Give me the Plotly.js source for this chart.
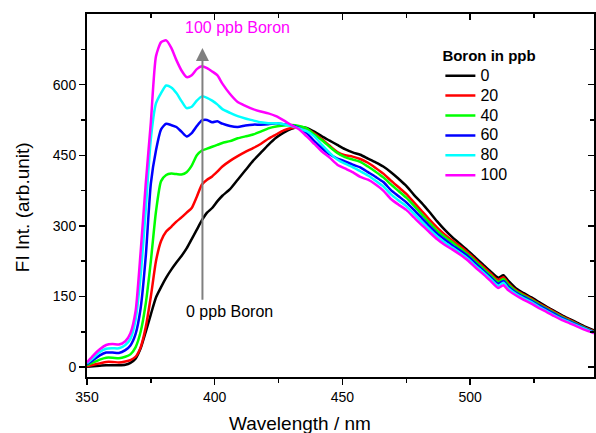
<!DOCTYPE html>
<html>
<head>
<meta charset="utf-8">
<script src="https://cdn.plot.ly/plotly-3.0.1.min.js"></script>
<style>html,body{margin:0;padding:0;background:#fff;}#chart{width:596px;height:433px;}</style>
</head>
<body>
<div id="chart"></div>
<script>
const wavelength = [350,352.5,355,357.5,360,362.5,365,367,369,371,373,375,377,379,381,383,385,387,389,391,393,395,397,399,401,403,406,409,412,415,418,421,424,427,430,433,436,439,442,445,448,451,454,457,460,463,466,469,472,475,478,481,484,487,490,493,496,499,502,505,508,511,513,515,518,521,524,527,530,533,536,539,542,545,548.5];

const boron0 = [1,2,3,4,4,4,5,9,18,40,75,112,148,170,190,207,222,236,252,272,292,312,328,338,352,364,378,398,418,438,455,472,487,498,506,510,508,500,490,481,472,463,456,451,443,435,426,414,400,385,366,349,330,310,292,276,262,248,233,218,203,190,195,183,167,157,148,138,128,119,110,102,94,86,78];
const boron20 = [2,5,8,11,11,10,12,15,22,42,85,150,225,268,288,298,309,318,328,338,362,388,398,405,415,426,438,448,457,465,474,485,494,503,508,509,506,496,484,470,457,450,447,442,434,423,411,396,382,368,350,332,314,297,282,269,257,244,229,214,199,185,191,178,163,154,145,135,126,117,108,100,92,84,76];
const boron40 = [4,10,16,20,20,19,22,27,42,75,135,225,330,395,408,411,410,409,414,428,450,460,464,468,472,476,480,486,490,494,500,507,511,513,514,512,507,494,482,468,455,446,441,436,426,415,403,388,374,360,343,325,307,290,277,265,253,240,225,210,195,181,187,175,161,152,143,133,124,115,106,98,91,83,75];
const boron60 = [6,15,25,31,31,30,36,46,70,125,235,390,460,505,517,514,510,500,490,497,512,524,525,520,522,517,512,510,513,515,515,516,518,516,514,508,497,480,465,452,443,437,430,424,414,404,393,376,363,350,334,317,300,284,271,259,248,236,221,206,191,177,183,171,158,149,141,131,122,113,104,97,90,82,74];
const boron80 = [8,20,32,39,40,40,47,60,100,195,335,485,560,582,598,594,582,565,550,553,566,575,572,566,558,548,540,533,528,524,520,518,518,516,512,507,501,490,472,455,441,432,425,416,407,396,384,367,354,342,326,309,293,278,265,254,243,231,216,202,187,173,179,167,155,146,138,128,119,110,102,95,88,81,73];
const boron100 = [10,25,38,47,49,48,55,72,118,245,390,520,660,690,694,678,652,630,616,620,633,639,635,628,620,602,580,563,555,548,543,539,533,524,514,505,490,474,458,445,430,422,414,404,398,388,375,357,345,334,318,302,287,272,260,250,239,227,212,198,183,168,174,163,152,143,135,125,117,108,100,93,86,79,72];

const seriesNames = ['0','20','40','60','80','100'];
const seriesValues = [boron0, boron20, boron40, boron60, boron80, boron100];
const seriesColors = ['#000000','#ff0000','#00ff00','#0000ff','#00ffff','#ff00ff'];

const xTicks = [350,400,450,500];
const yTicks = [0,150,300,450,600];
const xMinorTicks = [375,425,475,525];
const yMinorTicks = [75,225,375,525,675];
const xRange = [350, 548.5];
const yRange = [-21, 750];

const FONT = 'Liberation Sans, Arial, Helvetica, sans-serif';

const traces = seriesNames.map((n, i) => ({
  type: 'scatter', mode: 'lines', name: '<span style="font-size:16px">' + n + '</span>',
  x: wavelength, y: seriesValues[i],
  line: {color: seriesColors[i], width: 2.5, shape: 'spline', smoothing: 0.6},
  hoverinfo: 'skip'
}));
// transparent copy on the mirrored axes so their inside ticks are drawn
traces.push({type:'scatter', mode:'lines', x:wavelength, y:boron0, xaxis:'x2', yaxis:'y2',
  line:{width:1, color:'rgba(0,0,0,0)'}, showlegend:false, hoverinfo:'skip'});

const axisCommon = {
  showgrid: false, zeroline: false, showline: true, linecolor: '#000', linewidth: 2,
  tickcolor: '#000', tickwidth: 1.5, ticklen: 6,
  tickfont: {family: FONT, size: 14, color: '#000'}
};

const layout = {
  width: 596, height: 433,
  margin: {l: 87, r: 2, t: 14, b: 56, pad: 0},
  paper_bgcolor: '#fff', plot_bgcolor: '#fff',
  showlegend: true,
  xaxis: Object.assign({}, axisCommon, {
    range: xRange.slice(), tickvals: xTicks, ticks: 'outside', mirror: true,
    minor: {tickvals: xMinorTicks, ticks: 'outside', ticklen: 4, tickwidth: 1.5, tickcolor: '#000'}
  }),
  yaxis: Object.assign({}, axisCommon, {
    range: yRange.slice(), tickvals: yTicks, ticks: 'outside', mirror: true,
    minor: {tickvals: yMinorTicks, ticks: 'outside', ticklen: 4, tickwidth: 1.5, tickcolor: '#000'}
  }),
  xaxis2: {
    overlaying: 'x', side: 'top', anchor: 'y2', range: xRange.slice(), tickvals: xTicks,
    ticks: 'inside', ticklen: 6, tickwidth: 1.5, tickcolor: '#000',
    showticklabels: true, tickfont: {size: 1, color: 'rgba(0,0,0,0)'},
    showgrid: false, zeroline: false,
    minor: {tickvals: xMinorTicks, ticks: 'inside', ticklen: 4, tickwidth: 1.5, tickcolor: '#000'}
  },
  yaxis2: {
    overlaying: 'y', side: 'right', anchor: 'x2', range: yRange.slice(), tickvals: yTicks,
    ticks: 'inside', ticklen: 6, tickwidth: 1.5, tickcolor: '#000',
    showticklabels: true, tickfont: {size: 1, color: 'rgba(0,0,0,0)'},
    showgrid: false, zeroline: false,
    minor: {tickvals: yMinorTicks, ticks: 'inside', ticklen: 4, tickwidth: 1.5, tickcolor: '#000'}
  },
  legend: {
    x: 0.697, xanchor: 'left', y: 0.925, yanchor: 'top',
    bgcolor: 'rgba(0,0,0,0)', borderwidth: 0,
    font: {family: FONT, size: 13, color: '#000'},
    title: {text: '<b>Boron in ppb</b>', font: {family: FONT, size: 15, color: '#000'}},
    tracegroupgap: 0
  },
  annotations: [
    {x: 395.2, y: 678, ax: 395.2, ay: 140, xref: 'x', yref: 'y', axref: 'x', ayref: 'y',
     text: '', showarrow: true, arrowhead: 2, arrowsize: 1.3, arrowwidth: 2, arrowcolor: '#808080', standoff: 0},
    {x: 408.9, y: 722, xref: 'x', yref: 'y', text: '100 ppb Boron', showarrow: false,
     font: {family: FONT, size: 16, color: '#ff00ff'}},
    {x: 405.7, y: 118, xref: 'x', yref: 'y', text: '0 ppb Boron', showarrow: false,
     font: {family: FONT, size: 16, color: '#000'}},
    {x: 0.42, y: -0.127, xref: 'paper', yref: 'paper', text: 'Wavelength / nm', showarrow: false,
     xanchor: 'center', yanchor: 'middle', font: {family: FONT, size: 19, color: '#000'}},
    {x: -0.128, y: 0.468, xref: 'paper', yref: 'paper', text: 'FI Int. (arb.unit)', showarrow: false,
     textangle: -90, xanchor: 'center', yanchor: 'middle', font: {family: FONT, size: 19, color: '#000'}}
  ]
};

Plotly.newPlot('chart', traces, layout, {staticPlot: true, displayModeBar: false});
</script>
</body>
</html>
